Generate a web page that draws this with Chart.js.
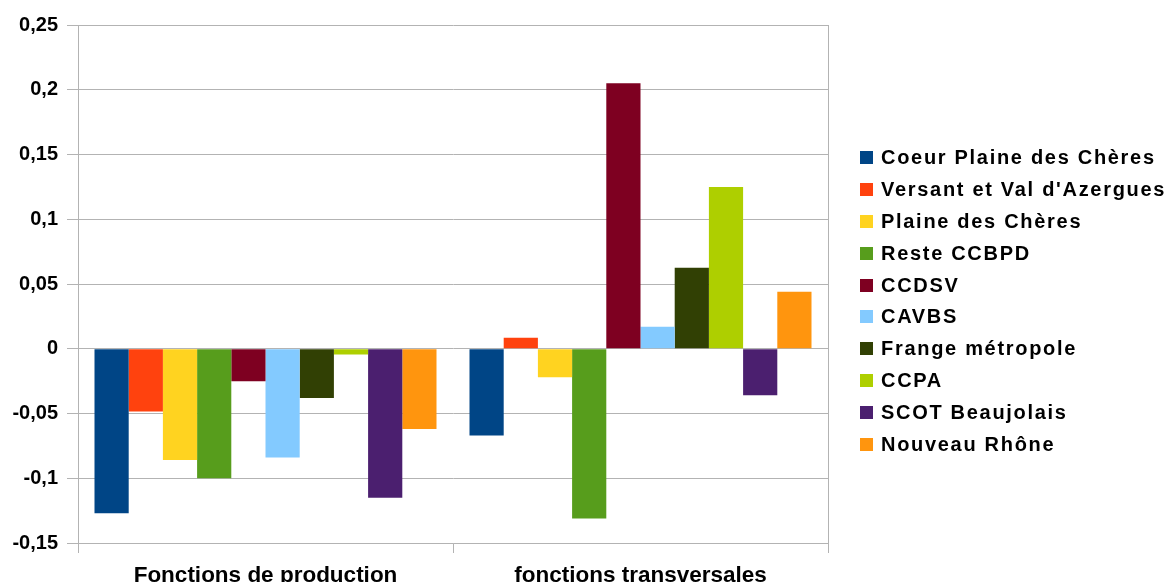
<!DOCTYPE html>
<html>
<head>
<meta charset="utf-8">
<script src="https://cdn.jsdelivr.net/npm/chart.js@4/dist/chart.umd.min.js"></script>
<style>
    body { margin: 0; background: #fff; overflow: hidden; }
    .wrap { position: relative; width: 1171px; height: 582px; }
    #legend {
        position: absolute; left: 860px; top: 142px;
        font-family: "Liberation Sans", Arial, sans-serif;
        font-weight: bold; font-size: 20px; letter-spacing: 1.7px; color: #000;
    }
    #legend .item { display: flex; align-items: center; height: 31.8px; white-space: nowrap; }
    #legend .box { width: 13px; height: 13px; margin-right: 8px; flex: none; }
</style>
</head>
<body>
<div class="wrap">
    <canvas id="barCanvas" width="1171" height="582"></canvas>
    <div id="legend"></div>
</div>
<script>
// categories on the x axis
var categories = ['Fonctions de production', 'fonctions transversales'];

// one series per territory
var seriesNames = [
    'Coeur Plaine des Chères',
    "Versant et Val d'Azergues",
    'Plaine des Chères',
    'Reste CCBPD',
    'CCDSV',
    'CAVBS',
    'Frange métropole',
    'CCPA',
    'SCOT Beaujolais',
    'Nouveau Rhône'
];

var coeurPlaine   = [-0.127, -0.067];
var versantVal    = [-0.0485, 0.0085];
var plaineCheres  = [-0.086, -0.022];
var resteCCBPD    = [-0.100, -0.131];
var ccdsv         = [-0.025, 0.205];
var cavbs         = [-0.084, 0.017];
var frangeMetro   = [-0.038, 0.0626];
var ccpa          = [-0.0044, 0.125];
var scotBeaujolais = [-0.115, -0.036];
var nouveauRhone  = [-0.062, 0.044];

var seriesValues = [coeurPlaine, versantVal, plaineCheres, resteCCBPD, ccdsv,
                    cavbs, frangeMetro, ccpa, scotBeaujolais, nouveauRhone];

var seriesColors = ['#004586', '#ff420e', '#ffd320', '#579d1c', '#7e0021',
                    '#83caff', '#314004', '#aecf00', '#4b1f6f', '#ff950e'];

// y tick range
var yMin = -0.15;
var yMax = 0.25;
var yStep = 0.05;

var gridGrey = '#b3b3b3';
var fontFamily = '"Liberation Sans", Arial, sans-serif';

var datasets = seriesNames.map(function (name, i) {
    return {
        label: name,
        data: seriesValues[i],
        backgroundColor: seriesColors[i],
        borderWidth: 0,
        categoryPercentage: 0.912,
        barPercentage: 1.0
    };
});

// html legend so the text can keep its letter spacing
var htmlLegend = {
    id: 'htmlLegend',
    afterUpdate: function (chart) {
        var box = document.getElementById('legend');
        box.innerHTML = '';
        chart.data.datasets.forEach(function (ds) {
            var row = document.createElement('div');
            row.className = 'item';
            var sw = document.createElement('span');
            sw.className = 'box';
            sw.style.background = ds.backgroundColor;
            var txt = document.createElement('span');
            txt.textContent = ds.label;
            row.appendChild(sw);
            row.appendChild(txt);
            box.appendChild(row);
        });
    }
};

var ctx = document.getElementById('barCanvas');

var myChart = new Chart(ctx, {
    type: 'bar',
    data: {
        labels: categories,
        datasets: datasets
    },
    options: {
        responsive: false,
        animation: false,
        layout: {
            padding: { top: 25, right: 343, left: 0, bottom: 0 }
        },
        plugins: {
            legend: { display: false },
            tooltip: { enabled: false }
        },
        scales: {
            x: {
                grid: {
                    offset: true,
                    drawOnChartArea: true,
                    tickLength: 10,
                    color: function (c) { return c.index === 1 ? 'rgba(0,0,0,0)' : gridGrey; },
                    tickColor: gridGrey
                },
                border: { display: true, color: gridGrey },
                ticks: {
                    color: '#000',
                    padding: 9,
                    maxRotation: 0,
                    font: { family: fontFamily, size: 22.5, weight: 'bold' }
                },
                afterFit: function (s) { s.height = 39; }
            },
            y: {
                min: yMin,
                max: yMax,
                grid: {
                    color: gridGrey,
                    tickLength: 11
                },
                border: { display: true, color: gridGrey },
                ticks: {
                    stepSize: yStep,
                    color: '#000',
                    padding: 9,
                    font: { family: fontFamily, size: 20, weight: 'bold' },
                    callback: function (v) {
                        return String(Math.round(v * 100) / 100).replace('.', ',');
                    }
                },
                afterFit: function (s) { s.width = 78; }
            }
        }
    },
    plugins: [htmlLegend]
});
</script>
</body>
</html>
